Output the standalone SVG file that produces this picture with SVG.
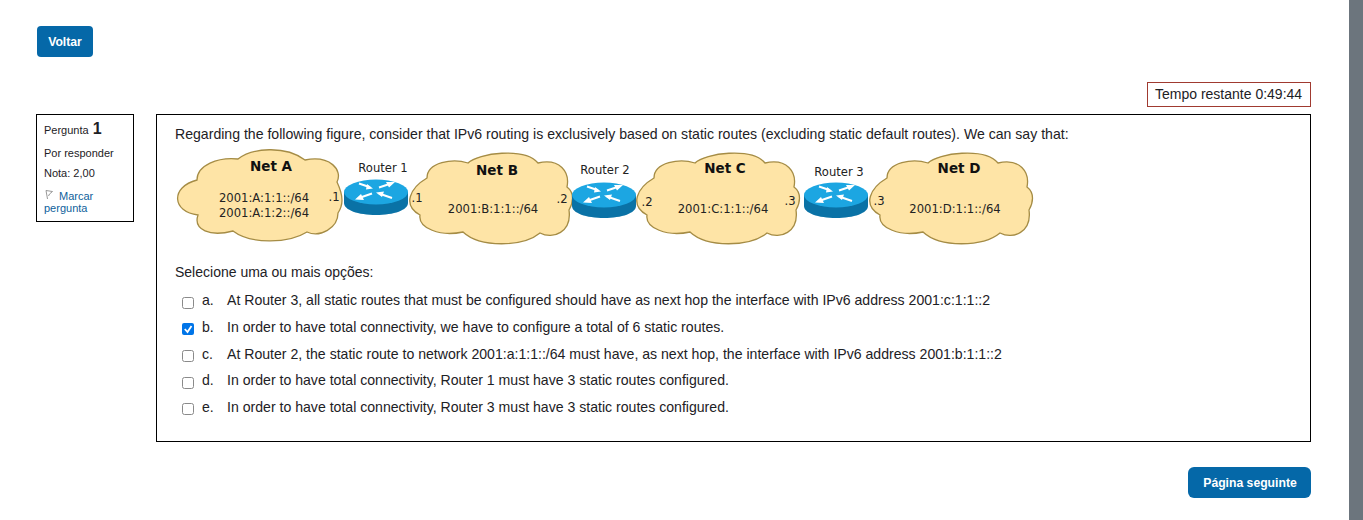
<svg xmlns="http://www.w3.org/2000/svg" xmlns:xlink="http://www.w3.org/1999/xlink" width="1363" height="520" viewBox="0 0 1363 520">
<style>
text{font-family:"Liberation Sans",Arial,sans-serif;fill:#1d2125}
.q{font-size:14.1px}
.t{font-size:14px}
.s{font-size:11px}
.btn{fill:#0568a8}
.bt{fill:#fff;font-size:12.2px;font-weight:700;text-anchor:middle}
.box{fill:#fff;stroke:#000;stroke-width:1}
.cloud{fill:#fee4a6;stroke:#a58c45;stroke-width:1.3}
.d{font-family:"DejaVu Sans",sans-serif;font-size:11.6px;fill:#222}
.n{font-family:"DejaVu Sans",sans-serif;font-size:13.5px;font-weight:700;fill:#111;text-anchor:middle}
.m{text-anchor:middle}
.cb{fill:#fff;stroke:#8a8a8a;stroke-width:1}
.ar{fill:none;stroke:#fff;stroke-width:2}
</style>
<defs>
<path id="cloudB" d="M427 178C427 162 453 158 468 163C478 153 525 147 538 163C560 158 570 172 567 187C575 193 573 203 569 210C572 232 553 240 540 233C523 247 480 248 463 232C440 237 418 228 420 215C402 205 410 188 427 178Z"/>
<g id="router">
<path d="M-32 0V11C-32 18 -18 23 0 23S32 18 32 11V0Z" fill="#0a72a6"/>
<ellipse cx="0" cy="0" rx="32" ry="12.500" fill="#1ca6e2"/>
<path class="ar" d="M-17 -8.500L-6 -4.800M15 -8.500L3 -4.500M-17 6L-4 1.500M3 1.500L16 6"/>
<path fill="#fff" d="M-3 -3.500L-9 -8L-10 -2.500ZM19 -10L10 -10L13 -4.500ZM-21 7.500L-12 8L-15 2ZM0 .5L8 -.5L6 5Z"/>
</g>
<g id="chk"><rect x="0" y="0" width="11" height="11" rx="2" class="cb"/></g>
</defs>
<rect width="1363" height="520" fill="#fff"/>
<rect x="1349" y="0" width="14" height="520" fill="#6c757d"/>
<g id="voltar"><rect x="37" y="26" width="56" height="31" rx="4" class="btn"/><text x="65" y="46" class="bt">Voltar</text></g>
<g id="timer"><rect x="1147.500" y="82.500" width="163" height="24" fill="#fff" stroke="#a03a30"/><text x="1155" y="99" class="t">Tempo restante 0:49:44</text></g>
<g id="info"><rect x="36.500" y="114.500" width="97" height="107" class="box"/>
<text x="44" y="134" class="s">Pergunta <tspan font-size="16" font-weight="700" dx="1">1</tspan></text>
<text x="44" y="157" class="s">Por responder</text>
<text x="44" y="177" class="s">Nota: 2,00</text>
<path d="M46 190.500L52.500 191.500L49.500 194L48.500 196M46 190.500L47.500 199" fill="none" stroke="#8c8c8c" stroke-width=".9"/>
<text x="59" y="200" class="s" style="fill:#0f5f9c">Marcar</text>
<text x="44" y="212" class="s" style="fill:#0f5f9c">pergunta</text></g>
<g id="question"><rect x="156.500" y="114.500" width="1154" height="327" class="box"/>
<text x="175" y="139" class="q">Regarding the following figure, consider that IPv6 routing is exclusively based on static routes (excluding static default routes). We can say that:</text>
<text x="175" y="277" class="t">Selecione uma ou mais opções:</text></g>
<g id="net-a"><path class="cloud" d="M197 180C197 165 218 157 238 159C252 148 285 145 305 160C330 155 343 170 337 182C344 197 343 205 338 213C338 228 320 238 307 232C288 244 250 244 233 231C210 237 193 230 198 215C172 212 170 187 197 180Z"/>
<text x="271" y="171" class="n">Net A</text><text x="264" y="202" class="d m">2001:A:1:1::/64</text><text x="264" y="217" class="d m">2001:A:1:2::/64</text><text x="334" y="201" class="d m">.1</text></g>
<g id="router-1"><use xlink:href="#router" href="#router" x="376" y="192"/><text x="383" y="172" class="d m">Router 1</text></g>
<g id="net-b"><use xlink:href="#cloudB" href="#cloudB" class="cloud"/><text x="497" y="175" class="n">Net B</text><text x="493" y="213" class="d m">2001:B:1:1::/64</text><text x="417" y="202" class="d m">.1</text><text x="562" y="203" class="d m">.2</text></g>
<g id="router-2"><use xlink:href="#router" href="#router" x="604" y="195"/><text x="605" y="174" class="d m">Router 2</text></g>
<g id="net-c"><use xlink:href="#cloudB" href="#cloudB" x="227" class="cloud"/><text x="725" y="173" class="n">Net C</text><text x="723" y="213" class="d m">2001:C:1:1::/64</text><text x="647" y="206" class="d m">.2</text><text x="790" y="205" class="d m">.3</text></g>
<g id="router-3"><use xlink:href="#router" href="#router" x="836" y="195"/><text x="839" y="176" class="d m">Router 3</text></g>
<g id="net-d"><use xlink:href="#cloudB" href="#cloudB" x="460" class="cloud"/><text x="959" y="173" class="n">Net D</text><text x="955" y="213" class="d m">2001:D:1:1::/64</text><text x="879" y="205" class="d m">.3</text></g>
<g id="options">
<use xlink:href="#chk" href="#chk" x="182.500" y="297.500"/><text x="202" y="305" class="q">a.</text><text x="227" y="305" class="q">At Router 3, all static routes that must be configured should have as next hop the interface with IPv6 address 2001:c:1:1::2</text>
<rect x="182" y="323" width="12" height="12" rx="2" fill="#0075e8"/><path d="M184.800 329L187.500 332L191.500 326" fill="none" stroke="#fff" stroke-width="1.800"/><text x="202" y="332" class="q">b.</text><text x="227" y="332" class="q">In order to have total connectivity, we have to configure a total of 6 static routes.</text>
<use xlink:href="#chk" href="#chk" x="182.500" y="350.500"/><text x="202" y="359" class="q">c.</text><text x="227" y="359" class="q">At Router 2, the static route to network 2001:a:1:1::/64 must have, as next hop, the interface with IPv6 address 2001:b:1:1::2</text>
<use xlink:href="#chk" href="#chk" x="182.500" y="377.500"/><text x="202" y="385" class="q">d.</text><text x="227" y="385" class="q">In order to have total connectivity, Router 1 must have 3 static routes configured.</text>
<use xlink:href="#chk" href="#chk" x="182.500" y="403.500"/><text x="202" y="412" class="q">e.</text><text x="227" y="412" class="q">In order to have total connectivity, Router 3 must have 3 static routes configured.</text>
</g>
<g id="next"><rect x="1188" y="467" width="123" height="31" rx="6" class="btn"/><text x="1250" y="487" class="bt">Página seguinte</text></g>
</svg>
